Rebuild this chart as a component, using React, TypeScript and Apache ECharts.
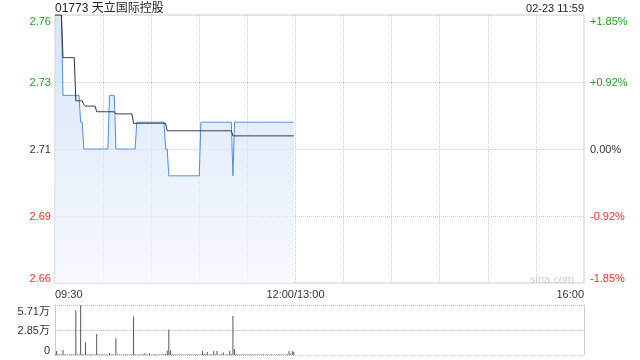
import React, { useEffect, useRef } from "react";
import * as echarts from "echarts";

const TITLE = "01773 天立国际控股";
const STAMP = "02-23 11:59";
const WATERMARK = "sina.com";
const PREV_CLOSE = 2.71;
const priceTicks = ["2.66", "2.69", "2.71", "2.73", "2.76"];
const pctTicks = ["-1.85%", "-0.92%", "0.00%", "+0.92%", "+1.85%"];
const volTicks = ["0", "2.85万", "5.71万"];
const timeLabels: Record<number, string> = { 0: "09:30", 150: "12:00/13:00", 330: "16:00" };

// one value per minute, 09:30 .. 11:59
const prices = [
  2.76, 2.76, 2.76, 2.76, 2.76,
  2.73, 2.73, 2.73, 2.73, 2.73, 2.73, 2.73, 2.73, 2.73, 2.73, 2.73,
  2.72, 2.72,
  2.71, 2.71, 2.71, 2.71, 2.71, 2.71, 2.71, 2.71, 2.71, 2.71, 2.71, 2.71, 2.71, 2.71, 2.71, 2.71,
  2.73, 2.73, 2.73, 2.73,
  2.71, 2.71, 2.71, 2.71, 2.71, 2.71, 2.71, 2.71, 2.71, 2.71, 2.71, 2.71, 2.71,
  2.72, 2.72, 2.72, 2.72, 2.72, 2.72, 2.72, 2.72, 2.72, 2.72, 2.72, 2.72, 2.72, 2.72, 2.72, 2.72, 2.72, 2.72,
  2.71, 2.71,
  2.70, 2.70, 2.70, 2.70, 2.70, 2.70, 2.70, 2.70, 2.70, 2.70, 2.70, 2.70, 2.70, 2.70, 2.70, 2.70, 2.70, 2.70, 2.70, 2.70,
  2.72, 2.72, 2.72, 2.72, 2.72, 2.72, 2.72, 2.72, 2.72, 2.72, 2.72, 2.72, 2.72, 2.72, 2.72, 2.72, 2.72, 2.72, 2.72, 2.72,
  2.70,
  2.72, 2.72, 2.72, 2.72, 2.72, 2.72, 2.72, 2.72, 2.72, 2.72, 2.72, 2.72, 2.72, 2.72, 2.72, 2.72, 2.72, 2.72, 2.72, 2.72,
  2.72, 2.72, 2.72, 2.72, 2.72, 2.72, 2.72, 2.72, 2.72, 2.72, 2.72, 2.72, 2.72, 2.72, 2.72, 2.72, 2.72, 2.72,
];

const avgPrices = [
  2.76, 2.76, 2.76, 2.76, 2.76,
  2.7441, 2.7441, 2.7441, 2.7441, 2.7441, 2.7441, 2.7441, 2.7441,
  2.728, 2.728, 2.728, 2.728, 2.728,
  2.7265,
  2.726, 2.726, 2.726, 2.726, 2.726, 2.726, 2.726,
  2.7239, 2.7239, 2.7239, 2.7239, 2.7239, 2.7239, 2.7239, 2.7239, 2.7239, 2.7239, 2.7239, 2.7239,
  2.7231, 2.7231, 2.7231, 2.7231, 2.7231, 2.7231, 2.7231, 2.7231, 2.7231, 2.7231, 2.7231,
  2.7196, 2.7196, 2.7196, 2.7196, 2.7196, 2.7196, 2.7196, 2.7196, 2.7196, 2.7196, 2.7196,
  2.7196, 2.7196, 2.7196, 2.7196, 2.7196, 2.7196, 2.7196, 2.7196, 2.7196, 2.7196,
  2.7168, 2.7168, 2.7168, 2.7168, 2.7168, 2.7168, 2.7168, 2.7168, 2.7168, 2.7168,
  2.7168, 2.7168, 2.7168, 2.7168, 2.7168, 2.7168, 2.7168, 2.7168, 2.7168, 2.7168,
  2.7168, 2.7168, 2.7168, 2.7168, 2.7168, 2.7168, 2.7168, 2.7168, 2.7168, 2.7168,
  2.7168, 2.7168, 2.7168, 2.7168, 2.7168, 2.7168, 2.7168, 2.7168, 2.7168, 2.7168,
  2.7168,
  2.7149, 2.7149, 2.7149, 2.7149, 2.7149, 2.7149, 2.7149, 2.7149, 2.7149, 2.7149,
  2.7149, 2.7149, 2.7149, 2.7149, 2.7149, 2.7149, 2.7149, 2.7149, 2.7149, 2.7149,
  2.7149, 2.7149, 2.7149, 2.7149, 2.7149, 2.7149, 2.7149, 2.7149, 2.7149, 2.7149,
  2.7149, 2.7149, 2.7149, 2.7149, 2.7149, 2.7149, 2.7149, 2.7149, 2.7149,
];

const volumes = [
  800, 4600, 900, 700, 600, 5700, 800, 500, 700, 600,
  900, 500, 700, 51000, 800, 600, 57100, 900, 700, 14500,
  600, 500, 800, 700, 600, 500, 24000, 800, 600, 700,
  500, 900, 600, 700, 2300, 600, 800, 700, 19000, 600,
  500, 700, 600, 800, 500, 600, 700, 500, 900, 44000,
  800, 600, 700, 500, 600, 800, 2000, 600, 500, 2000,
  700, 600, 500, 800, 600, 700, 500, 600, 900, 1200,
  5000, 29000, 5000, 800, 600, 700, 500, 600, 800, 500,
  700, 600, 500, 800, 600, 700, 500, 600, 800, 700,
  600, 900, 4500, 1200, 800, 3400, 900, 700, 800, 4500,
  900, 4500, 700, 600, 800, 2800, 700, 600, 800, 4500,
  900, 44500, 6800, 900, 700, 600, 800, 500, 700, 600,
  500, 800, 600, 700, 500, 600, 800, 700, 600, 500,
  800, 600, 700, 500, 600, 800, 700, 600, 500, 700,
  600, 800, 500, 700, 600, 900, 4500, 800, 4500, 3400,
];

const FONT = '"Liberation Sans", Arial, "Noto Sans CJK SC", sans-serif';
const GREEN = "#1e9e1e";
const RED = "#ee2b2b";
const TEXT = "#333";
const PRICE_MIN = -0.05;
const PRICE_MAX = 0.05;
const PRICE_STEP = 0.025;
const VOL_MAX = 57100;
const VOL_STEP = 28550;

function priceIdx(v: number) {
  return Math.round((v - PRICE_MIN) / PRICE_STEP);
}
function priceColor(v: number) {
  const i = priceIdx(v);
  return i > 2 ? GREEN : i < 2 ? RED : TEXT;
}

export default function App() {
  const ref = useRef<HTMLDivElement>(null);
  useEffect(() => {
    if (!ref.current) return;
    const chart = echarts.init(ref.current, null, { renderer: "svg" });
    const option: any = {
      animation: false,
      textStyle: { fontFamily: FONT },
      grid: [
        { left: 55, right: 56, top: 15, height: 268, show: true, borderColor: "#ccc", borderWidth: 1 },
        { left: 55, right: 56, top: 305, height: 50 },
      ],
      xAxis: [
        {
          type: "value",
          gridIndex: 0,
          min: 0,
          max: 330,
          interval: 30,
          axisLine: { show: false },
          axisTick: { show: false },
          splitLine: { show: true, showMinLine: false, showMaxLine: false, lineStyle: { type: "dotted", color: "#ccc" } },
          axisLabel: {
            show: true,
            formatter: (v: number) => timeLabels[v] ?? "",
            alignMinLabel: "left",
            alignMaxLabel: "right",
            color: TEXT,
            fontSize: 11,
            margin: 5,
            hideOverlap: false,
          },
        },
        {
          type: "value",
          gridIndex: 1,
          min: 0,
          max: 330,
          interval: 30,
          axisLine: { show: false },
          axisTick: { show: false },
          axisLabel: { show: false },
          splitLine: { show: false },
        },
      ],
      yAxis: [
        {
          type: "value",
          gridIndex: 0,
          position: "left",
          min: PRICE_MIN,
          max: PRICE_MAX,
          interval: PRICE_STEP,
          axisLine: { show: false },
          axisTick: { show: false },
          splitLine: { show: true, showMinLine: false, showMaxLine: false, lineStyle: { type: "dotted", color: "#ccc" } },
          axisLabel: {
            formatter: (v: number) => priceTicks[priceIdx(v)] ?? "",
            color: (v: number) => priceColor(v),
            fontSize: 11,
            margin: 4,
            verticalAlignMinLabel: "bottom",
            verticalAlignMaxLabel: "top",
          },
        },
        {
          type: "value",
          gridIndex: 0,
          position: "right",
          min: PRICE_MIN,
          max: PRICE_MAX,
          interval: PRICE_STEP,
          axisLine: { show: false },
          axisTick: { show: false },
          splitLine: { show: false },
          axisLabel: {
            formatter: (v: number) => pctTicks[priceIdx(v)] ?? "",
            color: (v: number) => priceColor(v),
            fontSize: 11,
            margin: 6,
            verticalAlignMinLabel: "bottom",
            verticalAlignMaxLabel: "top",
          },
        },
        {
          type: "value",
          gridIndex: 1,
          position: "left",
          min: 0,
          max: VOL_MAX,
          interval: VOL_STEP,
          axisLine: { show: true, lineStyle: { color: "#ccc" } },
          axisTick: { show: false },
          splitLine: { show: true, lineStyle: { type: "dotted", color: "#bbb" } },
          axisLabel: {
            formatter: (v: number) => volTicks[Math.round(v / VOL_STEP)] ?? "",
            color: TEXT,
            fontSize: 11,
            margin: 5,
            verticalAlignMinLabel: "bottom",
            verticalAlignMaxLabel: "top",
          },
        },
        {
          type: "value",
          gridIndex: 1,
          position: "right",
          min: 0,
          max: VOL_MAX,
          interval: VOL_STEP,
          axisLine: { show: true, lineStyle: { color: "#ccc" } },
          axisTick: { show: false },
          splitLine: { show: false },
          axisLabel: { show: false },
        },
      ],
      series: [
        {
          type: "line",
          xAxisIndex: 0,
          yAxisIndex: 0,
          data: prices.map((p, i) => [i, p - PREV_CLOSE]),
          showSymbol: false,
          symbol: "none",
          lineStyle: { color: "#4a8fe6", width: 1 },
          areaStyle: {
            origin: "start",
            color: new echarts.graphic.LinearGradient(0, 0, 0, 1, [
              { offset: 0, color: "#c7daf6" },
              { offset: 1, color: "#f3f7fd" },
            ]),
          },
          z: 3,
        },
        {
          type: "line",
          xAxisIndex: 0,
          yAxisIndex: 0,
          data: avgPrices.map((p, i) => [i, p - PREV_CLOSE]),
          showSymbol: false,
          symbol: "none",
          lineStyle: { color: "#333", width: 1 },
          z: 4,
        },
        {
          type: "bar",
          xAxisIndex: 1,
          yAxisIndex: 2,
          data: volumes.map((v, i) => [i, v]),
          barWidth: 1,
          itemStyle: { color: "#555" },
        },
      ],
      graphic: [
        {
          type: "text",
          x: 55,
          y: 8,
          style: { text: TITLE, fontSize: 12, fill: "#222", align: "left", verticalAlign: "middle", fontFamily: FONT },
        },
        {
          type: "text",
          x: 584,
          y: 8,
          style: { text: STAMP, fontSize: 11, fill: "#222", align: "right", verticalAlign: "middle", fontFamily: FONT },
        },
        {
          type: "text",
          x: 574,
          y: 279,
          style: { text: WATERMARK, fontSize: 11, fill: "#cfcfcf", align: "right", verticalAlign: "middle", fontFamily: FONT },
        },
      ],
    };
    chart.setOption(option);
    return () => chart.dispose();
  }, []);
  return <div ref={ref} style={{ position: "fixed", left: 0, top: 0, width: 640, height: 360 }} />;
}
